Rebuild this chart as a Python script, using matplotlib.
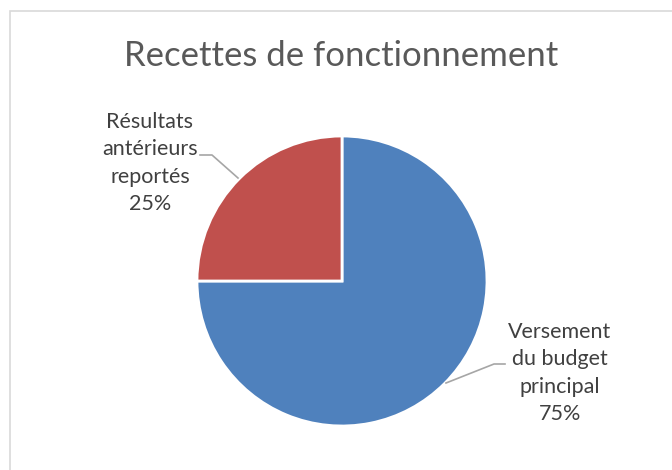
import matplotlib.pyplot as plt
from matplotlib.patches import Rectangle

# donnees
categories = ['Versement\ndu budget\nprincipal', 'Résultats\nantérieurs\nreportés']
parts = [75, 25]
couleurs = ['#4F81BD', '#C0504D']
titre = 'Recettes de fonctionnement'

W, H = 672, 470
fig = plt.figure(figsize=(W / 100, H / 100), dpi=100)
ax = fig.add_axes([0, 0, 1, 1])

# cadre du graphique (seuls les bords haut et gauche sont visibles)
ax.add_patch(Rectangle((10, -5), W, H - 11 + 5, fill=False, ec='#D9D9D9', lw=1.2))

# camembert, sens horaire depuis midi
cx, cy, r = 342, H - 281, 145
wedges, _ = ax.pie(parts, colors=couleurs, startangle=90, counterclock=False,
                   center=(cx, cy), radius=r, frame=True,
                   wedgeprops=dict(edgecolor='white', linewidth=2))
ax.set_xlim(0, W)
ax.set_ylim(0, H)
ax.set_aspect('equal')
ax.axis('off')

ax.text(341, H - 56, titre, ha='center', va='center', fontsize=25,
        color='#595959', family='Lato')

pct = ['{}%'.format(p) for p in parts]

# etiquettes avec lignes de rappel
ax.plot([446, 494, 505], [H - 383, H - 364, H - 364], color='#A6A6A6', lw=1.2)
ax.text(560, H - 373, categories[0] + '\n' + pct[0], ha='center', va='center',
        fontsize=15.5, color='#404040', family='Lato', linespacing=1.45)

ax.plot([238, 212, 200], [H - 178, H - 155, H - 155], color='#A6A6A6', lw=1.2)
ax.text(150, H - 163, categories[1] + '\n' + pct[1], ha='center', va='center',
        fontsize=15.5, color='#404040', family='Lato', linespacing=1.45)

fig.savefig('out.png', dpi=100)
